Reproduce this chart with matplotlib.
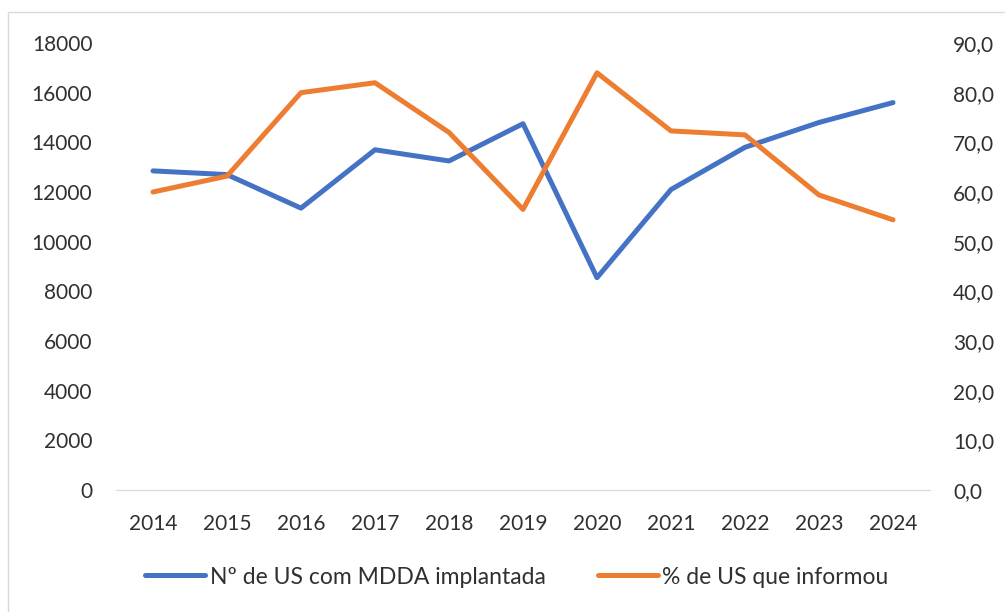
import numpy as np
import matplotlib.pyplot as plt
from matplotlib.patches import Rectangle

years = ['2014', '2015', '2016', '2017', '2018', '2019', '2020', '2021', '2022', '2023', '2024']
n_us = [12850, 12700, 11350, 13700, 13250, 14750, 8550, 12100, 13800, 14800, 15600]
pct_us = [60.0, 63.2, 80.0, 82.0, 72.0, 56.5, 84.0, 72.3, 71.5, 59.4, 54.4]

plt.rcParams['font.family'] = ['Lato', 'DejaVu Sans']

fig = plt.figure(figsize=(10.05, 6.12), dpi=100)
ax = fig.add_axes([116/1005, 1 - 490/612, (930 - 116)/1005, (490 - 43)/612])
ax2 = ax.twinx()

x = np.arange(len(years))
l1, = ax.plot(x, n_us, color='#4472C4', lw=3.6, solid_capstyle='round',
              solid_joinstyle='round', label='Nº de US com MDDA implantada')
l2, = ax2.plot(x, pct_us, color='#ED7D31', lw=3.6, solid_capstyle='round',
               solid_joinstyle='round', label='% de US que informou')

ax.set_xlim(-0.5, len(years) - 0.5)
ax.set_ylim(0, 18000)
ax2.set_ylim(0, 90)
ax.set_yticks(range(0, 18001, 2000))
ax2.set_yticks(range(0, 91, 10))
ax2.set_yticklabels([f'{v},0' for v in range(0, 91, 10)])
ax.set_xticks(x)
ax.set_xticklabels(years)

txt = '#303030'
for a in (ax, ax2):
    for s in ('top', 'left', 'right'):
        a.spines[s].set_visible(False)
    a.spines['bottom'].set_color('#D9D9D9')
    a.tick_params(length=0, labelsize=15, colors=txt)
ax.tick_params(axis='y', pad=17)
ax2.tick_params(axis='y', pad=16.5)
ax.tick_params(axis='x', pad=17.5)

fig.legend(handles=[l1, l2], loc='center', bbox_to_anchor=(517/1005, 1 - 577/612),
           ncol=2, frameon=False, fontsize=16.5, handlelength=2.6, columnspacing=2.3,
           handletextpad=0.2, labelcolor=txt)

# outer chart border (left and top edges visible)
fig.patches.append(Rectangle((8/1005, -0.1), 1.2, 1 - 12/612 + 0.1, transform=fig.transFigure,
                             fill=False, edgecolor='#D9D9D9', lw=1))

fig.savefig('out.png', dpi=100)
